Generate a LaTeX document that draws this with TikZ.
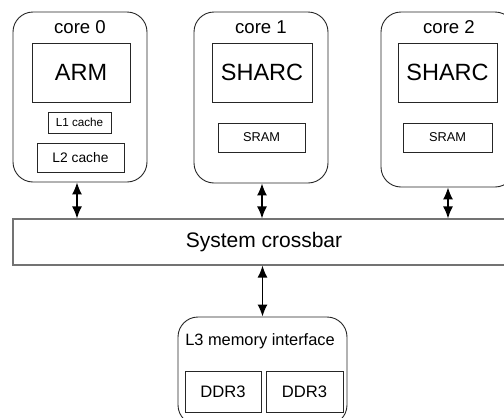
\documentclass[tikz,border=0pt]{standalone}
\usepackage{fontspec}
\setmainfont{Liberation Sans}
\usetikzlibrary{arrows.meta}
\tikzset{
  blk/.style={draw=black!85, line width=0.9pt, fill=white, inner sep=0pt, rectangle},
  corebox/.style={blk, rounded corners=20pt},
  txt/.style={inner sep=0pt},
  bigf/.style={font=\fontsize{23.5}{25}\selectfont},
  coref/.style={font=\fontsize{18.6}{20}\selectfont},
  midf/.style={font=\fontsize{16.4}{18}\selectfont},
  smallf/.style={font=\fontsize{12.8}{14}\selectfont},
  biarrow/.style={{Latex[length=12pt,width=10pt]}-{Latex[length=12pt,width=10pt]}, line width=1.3pt, black}
}
\begin{document}
\begin{tikzpicture}[x=1pt,y=-1pt]
\useasboundingbox (0,0) rectangle (504,418);
\clip (0,0) rectangle (504,418);
% core 0
\node[corebox, minimum width=134pt, minimum height=170pt] (core0) at (80,97) {};
\node[txt, coref] (c0t) at (80,27) {core 0};
\node[blk, bigf, minimum width=98pt, minimum height=59pt] (arm) at (81,72.5) {ARM};
\node[blk, font=\fontsize{11.7}{13}\selectfont, minimum width=63pt, minimum height=21pt] (l1) at (79.5,122.5) {L1 cache};
\node[blk, font=\fontsize{13.8}{15}\selectfont, minimum width=87pt, minimum height=29pt] (l2) at (80.5,157.5) {L2 cache};
% core 1
\node[corebox, minimum width=134pt, minimum height=171pt] (core1) at (261,97.5) {};
\node[txt, coref] (c1t) at (261,27) {core 1};
\node[blk, bigf, minimum width=100pt, minimum height=59pt] (sharc1) at (262,72.5) {SHARC};
\node[blk, smallf, minimum width=87pt, minimum height=29pt] (sram1) at (261.5,137.5) {SRAM};
% core 2
\node[corebox, minimum width=134pt, minimum height=175pt] (core2) at (448,99.5) {};
\node[txt, coref] (c2t) at (449,27) {core 2};
\node[blk, bigf, minimum width=99pt, minimum height=59pt] (sharc2) at (447.5,72.5) {SHARC};
\node[blk, smallf, minimum width=89pt, minimum height=29pt] (sram2) at (447.5,137.5) {SRAM};
% crossbar
\node[blk, draw=black!55, line width=1.2pt, minimum width=497pt, minimum height=46pt] (xbar) at (261.5,242) {};
\node[txt, font=\fontsize{21}{23}\selectfont] (xbart) at (264,242) {System crossbar};
% L3
\node[corebox, minimum width=169pt, minimum height=108pt] (l3) at (262.5,371) {};
\node[txt, midf] (l3t) at (260,341) {L3 memory interface};
\node[blk, font=\fontsize{16.6}{18}\selectfont, minimum width=76pt, minimum height=41pt] (ddra) at (223,391.5) {DDR3};
\node[blk, font=\fontsize{16.6}{18}\selectfont, minimum width=77pt, minimum height=41pt] (ddrb) at (304.5,391.5) {DDR3};
% connectors
\draw[biarrow] ([xshift=-3pt]core0.south) -- ([xshift=-3pt]core0.south |- xbar.north);
\draw[biarrow] ([xshift=1pt]core1.south) -- ([xshift=1pt]core1.south |- xbar.north);
\draw[biarrow] (core2.south) -- (core2.south |- xbar.north);
\draw[biarrow] (xbar.south -| l3.north) -- (l3.north);
\end{tikzpicture}
\end{document}
